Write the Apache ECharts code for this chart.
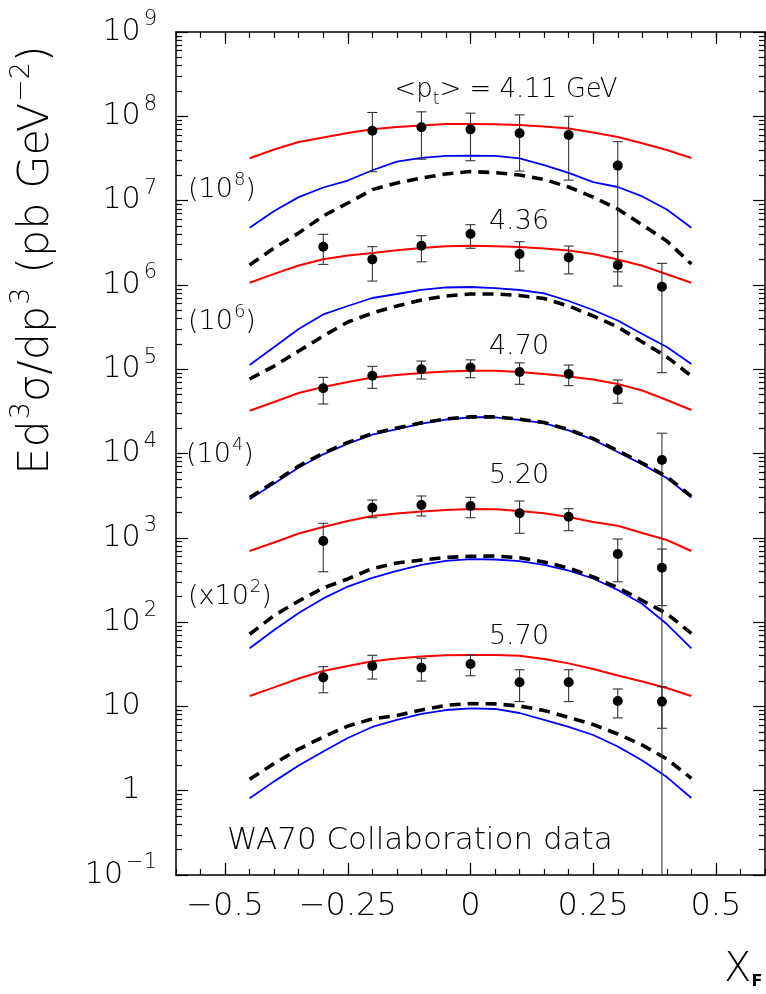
<!DOCTYPE html>
<html><head><meta charset="utf-8">
<script src="https://cdn.jsdelivr.net/npm/echarts@6/dist/echarts.min.js"></script>
<style>html,body{margin:0;padding:0;background:#fff}#c{width:766px;height:994px}</style>
</head><body><div id="c"></div>
<script>
// ---- curve abscissae (x_F) ----
const curveX = [-0.45,-0.40,-0.35,-0.30,-0.25,-0.20,-0.15,-0.10,-0.05,0,0.05,0.10,0.15,0.20,0.25,0.30,0.35,0.40,0.45];

// ---- curves (values as plotted, already multiplied by the group factor) ----
const red411  = [3.18e7,4.04e7,4.95e7,5.61e7,6.34e7,7.01e7,7.46e7,7.78e7,8.11e7,8.11e7,8.04e7,7.89e7,7.57e7,7.16e7,6.43e7,5.68e7,4.79e7,3.98e7,3.20e7];
const blue411 = [4.77e6,7.53e6,1.10e7,1.43e7,1.73e7,2.29e7,2.90e7,3.22e7,3.40e7,3.41e7,3.40e7,3.16e7,2.64e7,2.13e7,1.66e7,1.45e7,1.12e7,7.84e6,4.77e6];
const dash411 = [1.72e6,2.74e6,4.13e6,6.57e6,9.36e6,1.35e7,1.62e7,1.85e7,2.07e7,2.21e7,2.15e7,2.01e7,1.78e7,1.45e7,1.10e7,7.95e6,5.14e6,3.32e6,1.77e6];

const red436  = [1.06e6,1.35e6,1.70e6,2.01e6,2.23e6,2.39e6,2.57e6,2.74e6,2.87e6,2.92e6,2.88e6,2.82e6,2.70e6,2.56e6,2.33e6,2.00e6,1.69e6,1.34e6,1.06e6];
const blue436 = [1.12e5,1.83e5,3.00e5,4.46e5,5.62e5,6.99e5,7.80e5,8.75e5,9.32e5,9.44e5,9.14e5,8.70e5,7.91e5,6.44e5,5.04e5,3.78e5,2.62e5,1.83e5,1.15e5];
const dash436 = [7.65e4,1.09e5,1.64e5,2.48e5,3.63e5,4.64e5,5.62e5,6.62e5,7.39e5,7.80e5,7.80e5,7.49e5,6.90e5,5.62e5,4.28e5,3.17e5,2.10e5,1.40e5,8.30e4];

const red470  = [3.22e4,4.08e4,5.22e4,6.15e4,7.05e4,7.97e4,8.54e4,9.01e4,9.39e4,9.60e4,9.57e4,9.26e4,8.77e4,8.19e4,7.55e4,6.67e4,5.59e4,4.31e4,3.28e4];
const blue470 = [2.86e3,4.40e3,6.82e3,9.78e3,1.31e4,1.67e4,1.95e4,2.26e4,2.53e4,2.69e4,2.69e4,2.50e4,2.29e4,1.88e4,1.46e4,1.04e4,7.43e3,5.12e3,3.01e3];
const dash470 = [3.0e3,4.6e3,7.1e3,1.01e4,1.35e4,1.72e4,2.0e4,2.31e4,2.57e4,2.72e4,2.72e4,2.55e4,2.33e4,1.92e4,1.50e4,1.08e4,7.7e3,5.3e3,3.1e3];

const red520  = [697,879,1125,1343,1582,1814,1942,2051,2137,2196,2178,2079,1953,1765,1540,1388,1140,942,697];
const blue520 = [48.9,80.6,128,191,264,334,404,476,531,557,553,528,476,409,329,240,164,94.9,48.9];
const dash520 = [71.7,120,178,254,325,432,502,545,584,603,608,581,516,438,343,257,180,126,73.6];

const red570  = [13.3,16.8,21.4,26.3,30.2,34.4,37.0,39.1,40.4,40.7,40.7,39.8,36.5,32.4,27.8,23.3,19.7,16.5,13.3];
const blue570 = [0.812,1.29,1.99,2.92,4.22,5.70,6.90,8.13,9.06,9.49,9.32,8.35,6.90,5.70,4.58,3.34,2.28,1.45,0.819];
const dash570 = [1.37,2.10,3.12,4.34,5.85,7.09,7.80,9.06,10.3,10.8,10.7,10.1,8.94,7.39,6.10,4.71,3.48,2.38,1.40];

// ---- WA70 data points (value, upper and lower error ends) ----
const x411   = [-0.2,-0.1,0,0.1,0.2,0.3];
const val411 = [6.75e7,7.4e7,7.0e7,6.3e7,6.0e7,2.6e7];
const hi411  = [1.11e8,1.13e8,1.09e8,1.04e8,1.0e8,5.0e7];
const lo411  = [2.2e7,3.1e7,2.97e7,2.24e7,1.75e7,1.43e6];

const xPts   = [-0.3,-0.2,-0.1,0,0.1,0.2,0.3,0.39];
const val436 = [2.84e6,2.01e6,2.92e6,4.02e6,2.33e6,2.12e6,1.72e6,9.5e5];
const hi436  = [3.98e6,2.84e6,3.83e6,5.18e6,3.25e6,2.89e6,2.48e6,1.8e6];
const lo436  = [1.75e6,1.11e6,1.88e6,2.72e6,1.46e6,1.35e6,9.7e5,9.1e4];

const val470 = [5.93e4,8.37e4,9.97e4,1.05e5,9.27e4,8.77e4,5.66e4,8.37e3];
const hi470  = [8.0e4,1.08e5,1.25e5,1.29e5,1.19e5,1.12e5,7.45e4,1.74e4];
const lo470  = [3.87e4,5.93e4,7.65e4,7.93e4,6.62e4,6.37e4,3.94e4,0.01];

const val520 = [916,2275,2449,2384,1953,1780,643,442];
const hi520  = [1486,2808,3133,3021,2733,2214,968,736];
const lo520  = [396,1731,1814,1731,1131,1214,301,157];

const val570 = [22.1,30.1,28.8,31.8,19.3,19.3,11.6,11.4];
const hi570  = [29.6,40.4,37.2,40.4,27.2,27.2,16.1,17.1];
const lo570  = [14.5,21.1,20.0,23.1,11.4,11.4,7.3,5.5];

// ---- ticks ----
const xTickLabels = [-0.5,-0.25,0,0.25,0.5];
const xMinorTicks = [];
for (let k = -12; k <= 12; k++) xMinorTicks.push(Math.round(k * 5) / 100);
const yDecades = [0.1,1,10,1e2,1e3,1e4,1e5,1e6,1e7,1e8,1e9];
const yMinorTicks = [];
for (let e = -1; e <= 8; e++) for (let m = 2; m <= 9; m++) yMinorTicks.push(m * Math.pow(10, e));

const FONT = 'DejaVu Sans';
const TXT = '#000';

const groups = [
  {red: red411, blue: blue411, dash: dash411, x: x411, val: val411, hi: hi411, lo: lo411},
  {red: red436, blue: blue436, dash: dash436, x: xPts, val: val436, hi: hi436, lo: lo436},
  {red: red470, blue: blue470, dash: dash470, x: xPts, val: val470, hi: hi470, lo: lo470},
  {red: red520, blue: blue520, dash: dash520, x: xPts, val: val520, hi: hi520, lo: lo520},
  {red: red570, blue: blue570, dash: dash570, x: xPts, val: val570, hi: hi570, lo: lo570}
];

const series = [];
function lineSeries(arr, style) {
  return {type: 'line', xAxisIndex: 0, yAxisIndex: 0, data: curveX.map((x, i) => [x, arr[i]]),
    showSymbol: false, symbol: 'none', silent: true, clip: true, z: 2, lineStyle: style};
}
groups.forEach(g => {
  series.push(lineSeries(g.red, {color: '#ff0000', width: 2}));
  series.push(lineSeries(g.blue, {color: '#0000ff', width: 1.8}));
  series.push(lineSeries(g.dash, {color: '#000000', width: 3.6, type: [11, 7], cap: 'butt'}));
});
groups.forEach(g => {
  series.push({
    type: 'custom', xAxisIndex: 0, yAxisIndex: 0, clip: true, silent: true, z: 3,
    data: g.x.map((x, i) => [x, g.lo[i], g.hi[i]]),
    renderItem: function (params, api) {
      const x = api.value(0);
      const top = api.coord([x, api.value(2)]);
      const bot = api.coord([x, api.value(1)]);
      const w = 5;
      const st = {stroke: '#333', lineWidth: 1.1};
      return {type: 'group', children: [
        {type: 'line', shape: {x1: top[0], y1: top[1], x2: bot[0], y2: bot[1]}, style: st},
        {type: 'line', shape: {x1: top[0] - w, y1: top[1], x2: top[0] + w, y2: top[1]}, style: st},
        {type: 'line', shape: {x1: bot[0] - w, y1: bot[1], x2: bot[0] + w, y2: bot[1]}, style: st}
      ]};
    }
  });
  series.push({type: 'scatter', xAxisIndex: 0, yAxisIndex: 0, symbol: 'circle', symbolSize: 10, silent: true, z: 4,
    itemStyle: {color: '#000', opacity: 1}, data: g.x.map((x, i) => [x, g.val[i]])});
});

const frame = {show: true, onZero: false, lineStyle: {color: '#000', width: 1.5}};
const noLine = {show: false, onZero: false};
const tickStyle = {color: '#000', width: 1.2};
function xAx(pos, line, ticks, len, labels) {
  return {type: 'value', min: -0.6, max: 0.6, position: pos, splitLine: {show: false},
    axisLine: line ? frame : noLine,
    axisTick: {show: true, inside: true, length: len, customValues: ticks, lineStyle: tickStyle},
    axisLabel: labels ? {show: true, customValues: xTickLabels, margin: 16, fontSize: 32, fontFamily: FONT, fontWeight: 200, color: TXT,
      formatter: v => (v < 0 ? '\u2212' + Math.abs(v) : String(v))} : {show: false}};
}
function yAx(pos, line, ticks, len, labels) {
  return {type: 'log', logBase: 10, min: 0.1, max: 1e9, position: pos, splitLine: {show: false},
    axisLine: line ? frame : noLine,
    axisTick: {show: true, inside: true, length: len, customValues: ticks, lineStyle: tickStyle},
    axisLabel: labels ? {show: true, customValues: yDecades, margin: 19, fontSize: 30, fontFamily: FONT, fontWeight: 200, color: TXT,
      formatter: v => {
        const e = Math.round(Math.log10(v));
        if (e === 0) return '1{h|0}';
        if (e === 1) return '10{h|0}';
        return '10{s|' + (e < 0 ? '\u2212' : '') + Math.abs(e) + '}';
      },
      rich: {
        s: {fontSize: 21, fontFamily: FONT, fontWeight: 200, color: TXT, padding: [0, 0, 24, 3]},
        h: {fontSize: 21, fontFamily: FONT, color: 'transparent', padding: [0, 0, 24, 3]}
      }} : {show: false}};
}

function txt(text, x, y, size, align, extra, supSize) {
  const ss = supSize || 18;
  return Object.assign({type: 'text', x: x, y: y, silent: true, z: 10,
    style: {text: text, fontSize: size, fontFamily: FONT, fontWeight: 200, fill: TXT, align: align || 'left', verticalAlign: 'middle',
      rich: {s: {fontSize: ss, fontFamily: FONT, fontWeight: 200, fill: TXT, padding: [0, 0, Math.round(ss * 1.1), 1]},
             t: {fontSize: 17, fontFamily: FONT, fontWeight: 200, fill: TXT, padding: [20, 0, 0, 0]},
             f: {fontSize: 16, fontFamily: FONT, fontWeight: 'bold', fill: TXT, padding: [22, 0, 0, 0]}}}}, extra || {});
}

const option = {
  animation: false,
  backgroundColor: '#fff',
  grid: {left: 176, right: 1, top: 32, bottom: 119, containLabel: false},
  xAxis: [
    xAx('bottom', true, xMinorTicks, 6, true),
    xAx('bottom', false, xTickLabels, 12, false),
    xAx('top', true, xMinorTicks, 6, false),
    xAx('top', false, xTickLabels, 12, false)
  ],
  yAxis: [
    yAx('left', true, yDecades, 12, true),
    yAx('left', false, yMinorTicks, 6, false),
    yAx('right', true, yDecades, 12, false),
    yAx('right', false, yMinorTicks, 6, false)
  ],
  series: series,
  graphic: [
    txt('Ed{s|3}\u03c3/dp{s|3} (pb GeV{s|\u22122})', 37, 260, 43, 'center', {rotation: Math.PI / 2}, 27),
    txt('<p{t|t}> = 4.11 GeV', 506, 90, 26, 'center'),
    txt('4.36', 519, 222, 27, 'center'),
    txt('4.70', 519, 347, 27, 'center'),
    txt('5.20', 519, 476, 27, 'center'),
    txt('5.70', 519, 637, 27, 'center'),
    txt('(10{s|8})', 188, 190, 27),
    txt('(10{s|6})', 188, 322, 27),
    txt('(10{s|4})', 186, 455, 27),
    txt('(x10{s|2})', 188, 597, 27),
    txt('WA70 Collaboration data', 227, 841, 31),
    txt('X{f|F}', 724, 971, 40)
  ]
};

const chart = echarts.init(document.getElementById('c'), null, {renderer: 'canvas'});
chart.setOption(option);
</script>
</body></html>
